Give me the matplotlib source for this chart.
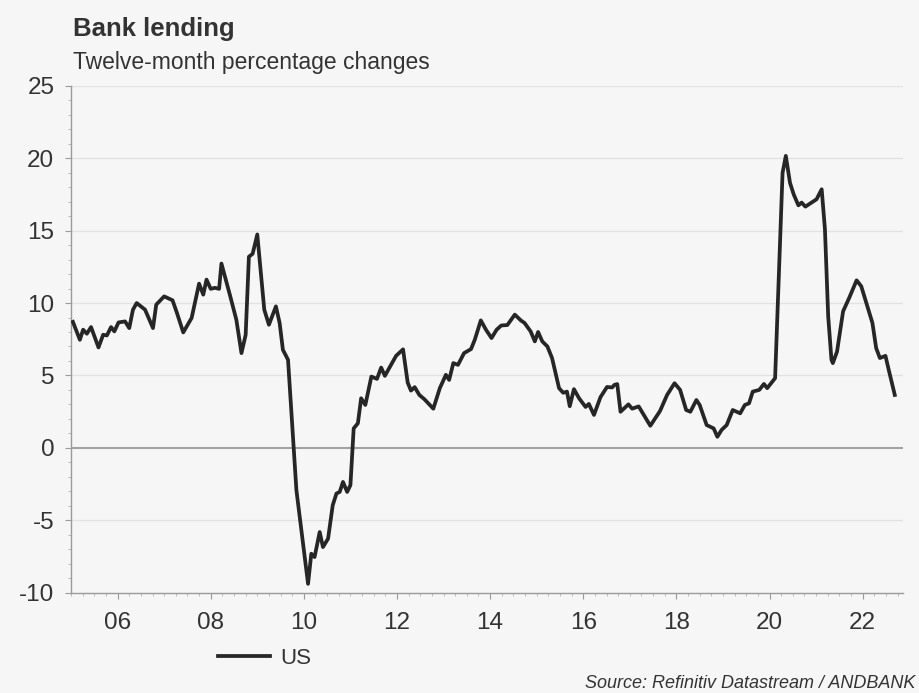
import numpy as np
import matplotlib
matplotlib.use("Agg")
import matplotlib.pyplot as plt
from matplotlib.ticker import FixedLocator, MultipleLocator

# ==========================================
# Data (decimal year, % y/y)
# ==========================================
years = [
    2005.04, 2005.19, 2005.26, 2005.34, 2005.43, 2005.59, 2005.69, 2005.77, 2005.86, 2005.93,
    2006.02, 2006.16, 2006.25, 2006.33, 2006.41, 2006.59, 2006.76, 2006.83, 2007.00, 2007.18,
    2007.27, 2007.41, 2007.59, 2007.75, 2007.84, 2007.91, 2008.00, 2008.09, 2008.18, 2008.23,
    2008.41, 2008.55, 2008.66, 2008.75, 2008.82, 2008.90, 2009.00, 2009.15, 2009.25, 2009.40,
    2009.48, 2009.55, 2009.66, 2009.84, 2010.09, 2010.16, 2010.23, 2010.34, 2010.41, 2010.52,
    2010.62, 2010.70, 2010.77, 2010.84, 2010.93, 2011.00, 2011.07, 2011.16, 2011.23, 2011.32,
    2011.45, 2011.57, 2011.66, 2011.74, 2011.98, 2012.13, 2012.23, 2012.30, 2012.38, 2012.48,
    2012.59, 2012.78, 2012.92, 2013.05, 2013.12, 2013.21, 2013.31, 2013.44, 2013.59, 2013.67,
    2013.80, 2013.91, 2014.03, 2014.14, 2014.24, 2014.37, 2014.53, 2014.66, 2014.74, 2014.87,
    2014.96, 2015.03, 2015.12, 2015.23, 2015.33, 2015.48, 2015.57, 2015.65, 2015.71, 2015.80,
    2015.91, 2016.05, 2016.12, 2016.23, 2016.37, 2016.51, 2016.62, 2016.67, 2016.73, 2016.80,
    2016.97, 2017.05, 2017.19, 2017.44, 2017.65, 2017.80, 2017.96, 2018.08, 2018.21, 2018.30,
    2018.43, 2018.50, 2018.65, 2018.80, 2018.88, 2018.97, 2019.08, 2019.21, 2019.37, 2019.47,
    2019.56, 2019.64, 2019.78, 2019.88, 2019.95, 2020.08, 2020.12, 2020.28, 2020.35, 2020.44,
    2020.52, 2020.62, 2020.69, 2020.77, 2020.90, 2021.01, 2021.12, 2021.19, 2021.26, 2021.33,
    2021.36, 2021.45, 2021.58, 2021.71, 2021.87, 2021.97, 2022.08, 2022.21, 2022.29, 2022.37,
    2022.49, 2022.56, 2022.69,
]
us_lending = [
    8.70, 7.46, 8.16, 7.88, 8.34, 6.93, 7.81, 7.76, 8.34, 8.04,
    8.66, 8.73, 8.27, 9.54, 10.00, 9.54, 8.27, 9.89, 10.46, 10.19,
    9.36, 7.97, 8.97, 11.34, 10.58, 11.62, 10.98, 11.05, 10.98, 12.73,
    10.58, 8.85, 6.54, 7.80, 13.20, 13.40, 14.74, 9.54, 8.50, 9.77,
    8.62, 6.77, 6.08, -2.93, -9.40, -7.32, -7.55, -5.82, -6.86, -6.28,
    -3.97, -3.16, -3.05, -2.36, -3.05, -2.58, 1.34, 1.69, 3.42, 2.96,
    4.92, 4.76, 5.54, 4.97, 6.35, 6.80, 4.50, 3.95, 4.19, 3.65,
    3.35, 2.70, 4.12, 5.04, 4.69, 5.85, 5.73, 6.54, 6.82, 7.46,
    8.80, 8.16, 7.58, 8.16, 8.45, 8.48, 9.20, 8.80, 8.62, 8.04,
    7.35, 8.00, 7.35, 7.00, 6.20, 4.12, 3.80, 3.88, 2.87, 4.05,
    3.42, 2.82, 3.03, 2.27, 3.50, 4.20, 4.17, 4.35, 4.40, 2.49,
    3.00, 2.70, 2.86, 1.52, 2.55, 3.65, 4.46, 4.00, 2.61, 2.49,
    3.30, 2.96, 1.57, 1.34, 0.76, 1.23, 1.57, 2.61, 2.38, 2.96,
    3.07, 3.88, 4.00, 4.41, 4.12, 4.64, 4.81, 19.00, 20.17, 18.30,
    17.50, 16.75, 16.94, 16.66, 16.94, 17.17, 17.86, 15.10, 9.08, 6.08,
    5.85, 6.65, 9.43, 10.35, 11.57, 11.16, 10.00, 8.62, 6.89, 6.20,
    6.35, 5.38, 3.65,
]
x_ticks = [2006, 2008, 2010, 2012, 2014, 2016, 2018, 2020, 2022]
x_labels = ["06", "08", "10", "12", "14", "16", "18", "20", "22"]
y_ticks = [-10, -5, 0, 5, 10, 15, 20, 25]

# ==========================================
# Plot
# ==========================================
plt.rcParams['font.family'] = ['Liberation Sans', 'DejaVu Sans']
plt.rcParams['axes.unicode_minus'] = False
bg = '#f6f6f6'
txt = '#333333'

fig = plt.figure(figsize=(9.2, 6.93), dpi=100, facecolor=bg)
ax = fig.add_axes([0.0772, 0.145, 0.904, 0.731], facecolor=bg)

for v in y_ticks:
    if v == 0:
        ax.axhline(v, color='#a3a3a3', lw=1.5, zorder=1)
    elif v != -10:
        ax.axhline(v, color='#e2e2e2', lw=1.0, zorder=1)

ax.plot(years, us_lending, color='#262626', lw=2.7, solid_joinstyle='round', label='US', zorder=3)

ax.set_xlim(2005.0, 2022.86)
ax.set_ylim(-10, 25)
ax.xaxis.set_major_locator(FixedLocator(x_ticks))
ax.set_xticklabels(x_labels)
ax.xaxis.set_minor_locator(MultipleLocator(0.25))
ax.set_yticks(y_ticks)
ax.yaxis.set_minor_locator(MultipleLocator(1))

for s in ['top', 'right']:
    ax.spines[s].set_visible(False)
for s in ['left', 'bottom']:
    ax.spines[s].set_color('#9a9a9a')
    ax.spines[s].set_linewidth(1.0)

ax.tick_params(axis='both', which='major', length=4, width=0.8, color='#9a9a9a',
               labelsize=17.5, labelcolor=txt)
ax.tick_params(axis='both', which='minor', length=2.5, width=0.6, color='#b0b0b0')
ax.tick_params(axis='x', which='major', pad=10)
ax.tick_params(axis='y', which='major', pad=8)

fig.text(73 / 920, 0.948, 'Bank lending', fontsize=18.5, fontweight='bold', color=txt, va='baseline')
fig.text(73 / 920, 0.901, 'Twelve-month percentage changes', fontsize=16.5, color=txt, va='baseline')
fig.text(0.995, 0.0144, 'Source: Refinitiv Datastream / ANDBANK', fontsize=13, style='italic',
         color=txt, ha='right', va='center')

fig.legend(loc='center left', bbox_to_anchor=(218 / 920, 0.05), frameon=False, fontsize=16,
           handlelength=2.35, handletextpad=0.45, borderpad=0, borderaxespad=0, labelcolor=txt)

fig.savefig('out.png', dpi=100, facecolor=bg)
